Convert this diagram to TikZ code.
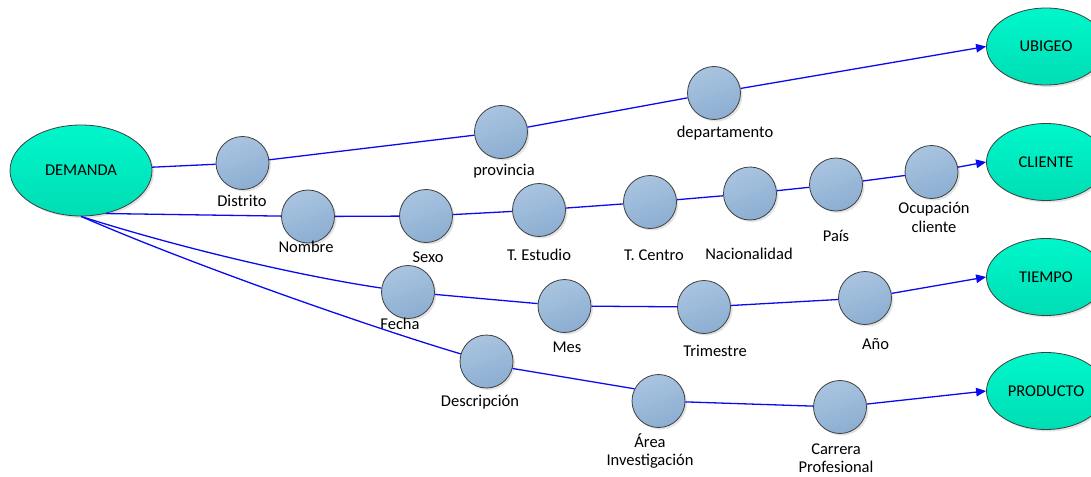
\documentclass[tikz,border=0pt]{standalone}
\usepackage{fontspec}
\setmainfont{Carlito}
\usetikzlibrary{arrows.meta,shapes.geometric,shadows}

\definecolor{linkblue}{HTML}{0A0AF0}
\definecolor{hubtop}{HTML}{00F7CB}
\definecolor{hubbot}{HTML}{00DDB4}
\definecolor{attrtop}{HTML}{A9C4E0}
\definecolor{attrbot}{HTML}{8CAED2}
\definecolor{rim}{HTML}{3F3F3F}

\tikzset{
  txt/.style={font=\fontsize{16.5}{18.5}\selectfont},
  softshadow/.style={drop shadow={opacity=0.22, shadow xshift=2pt, shadow yshift=-2pt}},
  hub/.style={ellipse, txt, inner sep=0pt, draw=rim, line width=0.8pt,
    top color=hubtop, bottom color=hubbot, softshadow},
  attr/.style={circle, minimum size=53pt, inner sep=0pt, draw=rim, line width=0.8pt,
    top color=attrtop, bottom color=attrbot, shading angle=20, softshadow},
  lbl/.style={txt, align=center, inner sep=0pt},
  link/.style={draw=linkblue, line width=1.3pt},
  arr/.style={link, -{Triangle[length=10pt,width=8.5pt]}}
}

\begin{document}
\begin{tikzpicture}[x=1pt,y=1pt]
\useasboundingbox (0,0) rectangle (1091,-476);
\clip (0,0) rectangle (1091,-476);

% fact and dimension ellipses
\node[hub, minimum width=142pt, minimum height=91pt] (dem) at (81,-170.5) {DEMANDA};
\node[hub, minimum width=119pt, minimum height=77pt] (ubigeo)   at (1046,-46.5) {UBIGEO};
\node[hub, minimum width=119pt, minimum height=77pt] (cliente)  at (1046,-162)  {CLIENTE};
\node[hub, minimum width=119pt, minimum height=77pt] (tiempo)   at (1046,-277)  {TIEMPO};
\node[hub, minimum width=119pt, minimum height=77pt] (producto) at (1046,-391)  {PRODUCTO};

% attribute circles
\node[attr] (distrito)  at (242.5,-163) {};
\node[attr] (provincia) at (501,-132) {};
\node[attr] (depto)     at (714,-93) {};

\node[attr] (nombre)   at (308,-216.5) {};
\node[attr] (sexo)     at (426,-216) {};
\node[attr] (testudio) at (539,-210) {};
\node[attr] (tcentro)  at (650,-202) {};
\node[attr] (nacion)   at (750,-193.5) {};
\node[attr] (pais)     at (836,-184.5) {};
\node[attr] (ocup)     at (931.5,-172) {};

\node[attr] (fecha) at (408,-292) {};
\node[attr] (mes)   at (564.5,-306) {};
\node[attr] (trim)  at (704,-307) {};
\node[attr] (anio)  at (865,-298) {};

\node[attr] (desc)    at (486.5,-361.5) {};
\node[attr] (area)    at (658.5,-401) {};
\node[attr] (carrera) at (840,-407) {};

% attribute labels
\node[lbl] (l-distrito)  at (242,-201) {Distrito};
\node[lbl] (l-provincia) at (504,-171) {provincia};
\node[lbl] (l-depto)     at (725,-133) {departamento};
\node[lbl] (l-nombre)    at (306,-247) {Nombre};
\node[lbl] (l-sexo)      at (428,-257) {Sexo};
\node[lbl] (l-testudio)  at (539,-255) {T. Estudio};
\node[lbl] (l-tcentro)   at (654,-255) {T. Centro};
\node[lbl] (l-nacion)    at (749,-254) {Nacionalidad};
\node[lbl] (l-pais)      at (836,-236) {País};
\node[lbl] (l-ocup)      at (934,-217.5) {Ocupación\\cliente};
\node[lbl] (l-fecha)     at (400,-324) {Fecha};
\node[lbl] (l-mes)       at (567,-347) {Mes};
\node[lbl] (l-trim)      at (715,-351) {Trimestre};
\node[lbl] (l-anio)      at (875.5,-344) {Año};
\node[lbl] (l-desc)      at (480,-402) {Descripción};
\node[lbl] (l-area)      at (650,-451) {Área\\Investigación};
\node[lbl] (l-carrera)   at (836,-458) {Carrera\\Profesional};

% UBIGEO hierarchy
\draw[link] (dem) -- (distrito);
\draw[link] (distrito) -- (provincia);
\draw[link] (provincia) -- (depto);
\draw[arr]  (depto) -- (ubigeo.west);

% CLIENTE hierarchy
\draw[link] (dem.-60) -- (nombre);
\draw[link] (nombre) -- (sexo);
\draw[link] (sexo) -- (testudio);
\draw[link] (testudio) -- (tcentro);
\draw[link] (tcentro) -- (nacion);
\draw[link] (nacion) -- (pais);
\draw[link] (pais) -- (ocup);
\draw[arr]  (ocup) -- (cliente.west);

% TIEMPO hierarchy
\draw[link] (dem.south) .. controls (180,-248) and (300,-276) .. (fecha);
\draw[link] (fecha) -- (mes);
\draw[link] (mes) -- (trim);
\draw[link] (trim) -- (anio);
\draw[arr]  (anio) -- (tiempo.west);

% PRODUCTO hierarchy
\draw[link] (dem.south) .. controls (200,-268) and (380,-330) .. (desc);
\draw[link] (desc.-15) -- (area.153);
\draw[link] (area) -- (carrera);
\draw[arr]  (carrera) -- (producto.west);
\end{tikzpicture}
\end{document}
